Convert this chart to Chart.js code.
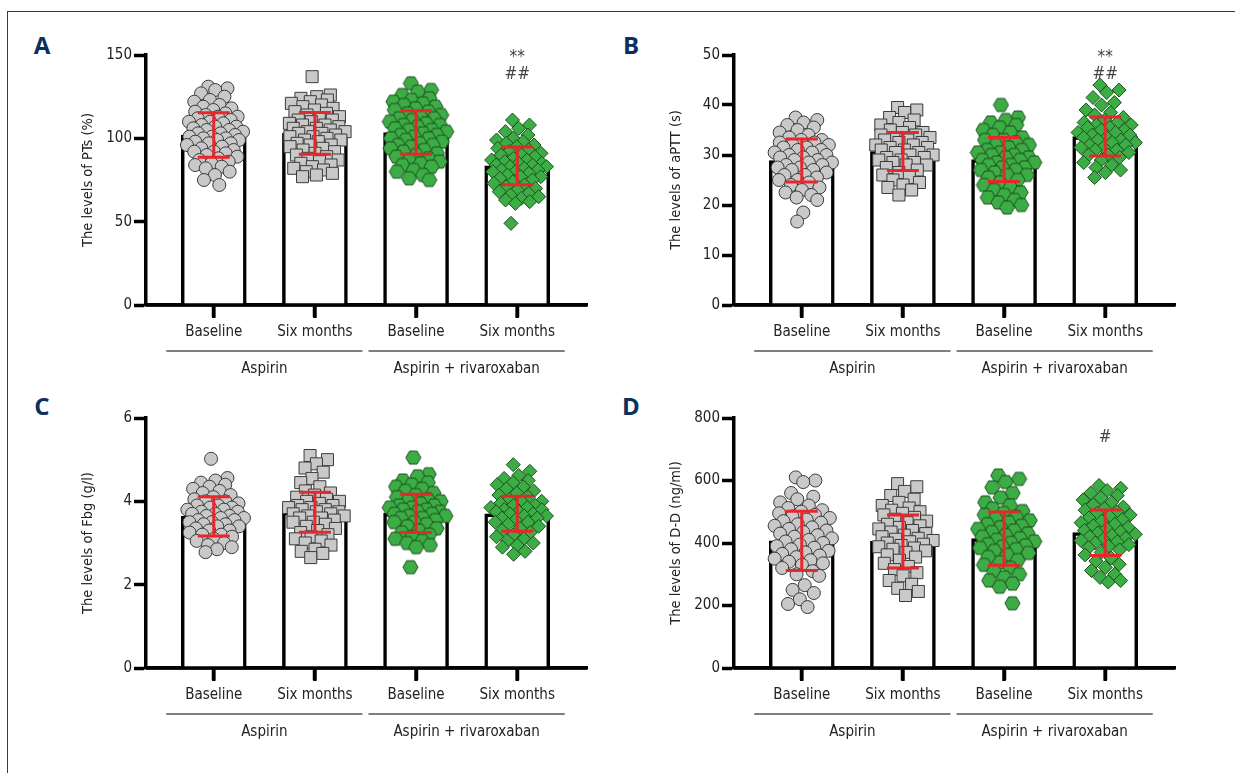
<!DOCTYPE html>
<html lang="en">
<head>
<meta charset="UTF-8">
<title>Coagulation indexes</title>
<script src="https://cdn.jsdelivr.net/npm/chart.js"></script>
<style>
    body { margin: 0; background: #fff; }
    #page { position: relative; width: 1235px; height: 773px; overflow: hidden; background: #fff; }
    .frame-top { position: absolute; left: 7px; top: 11px; right: 0; border-top: 1px solid #3a3a3a; }
    .frame-left { position: absolute; left: 7px; top: 11px; bottom: 0; border-left: 1px solid #3a3a3a; }
    .tag {
        position: absolute;
        font: bold 24px 'Open Sans', 'Liberation Sans', sans-serif;
        color: #0c2f5e;
        transform: translate(-50%, -50%);
    }
    canvas { position: absolute; }
</style>
</head>
<body>
<div id="page">
    <div class="frame-top"></div>
    <div class="frame-left"></div>
    <div class="tag" style="left:42px;top:44px">A</div>
    <div class="tag" style="left:631px;top:44px">B</div>
    <div class="tag" style="left:42px;top:405px">C</div>
    <div class="tag" style="left:631px;top:405px">D</div>
    <canvas id="chartA" width="600" height="380" style="left:0;top:0"></canvas>
    <canvas id="chartB" width="600" height="380" style="left:588px;top:0"></canvas>
    <canvas id="chartC" width="600" height="380" style="left:0;top:363px"></canvas>
    <canvas id="chartD" width="600" height="380" style="left:588px;top:363px"></canvas>
</div>

<script>
    // categories and groups
    const categories = ['Baseline', 'Six months', 'Baseline', 'Six months'];
    const groups = ['Aspirin', 'Aspirin + rivaroxaban'];

    // A - PTs (%)
    const ptsMean = [102, 103, 103.5, 83.5];
    const ptsSD = [13.4, 12.5, 13, 11.3];
    const ptsAspBase = [131, 130, 129, 127, 125, 123, 122, 120, 119, 118, 117, 116, 115, 114, 113, 113, 112, 111, 110, 110, 109, 108, 107, 107, 106, 105, 105, 104, 103, 103, 102, 101, 101, 100, 100, 99, 99, 98, 97, 97, 96, 95, 94, 93, 92, 92, 91, 90, 89, 88, 87, 86, 85, 84, 83, 82, 80, 78, 75, 72];
    const ptsAsp6m = [137, 126, 125, 124, 123, 122, 121, 120, 119, 118, 117, 116, 115, 114, 113, 112, 111, 111, 110, 109, 108, 108, 107, 106, 106, 105, 104, 104, 103, 103, 102, 101, 101, 100, 99, 99, 98, 97, 96, 96, 95, 94, 93, 92, 91, 90, 89, 88, 87, 86, 85, 84, 83, 82, 81, 80, 79, 78, 77];
    const ptsRivBase = [133, 129, 128, 126, 124, 123, 122, 121, 120, 119, 118, 117, 116, 115, 114, 113, 112, 112, 111, 110, 109, 108, 108, 107, 106, 105, 105, 104, 103, 102, 102, 101, 100, 100, 99, 98, 97, 96, 96, 95, 94, 93, 92, 91, 90, 89, 88, 87, 86, 85, 84, 83, 81, 80, 78, 76, 75];
    const ptsRiv6m = [111, 108, 106, 104, 102, 100, 99, 98, 97, 96, 95, 94, 93, 92, 91, 90, 90, 89, 88, 87, 87, 86, 85, 85, 84, 84, 83, 83, 82, 81, 81, 80, 80, 79, 78, 77, 77, 76, 75, 74, 73, 72, 71, 70, 69, 68, 67, 66, 65, 64, 63, 62, 61, 49];
    const ptsMarks = [[], [], [], ['**', '##']];

    // B - aPTT (s)
    const apttMean = [28.9, 30.7, 29.1, 33.7];
    const apttSD = [4.3, 3.8, 4.4, 3.9];
    const apttAspBase = [37.5, 37, 36.5, 36, 35.5, 35, 34.5, 34, 33.5, 33, 33, 32.5, 32.5, 32, 32, 31.5, 31.5, 31, 31, 30.5, 30.5, 30, 30, 29.5, 29.5, 29, 29, 28.5, 28.5, 28, 28, 27.5, 27.5, 27, 27, 26.5, 26, 26, 25.5, 25, 25, 24.5, 24, 23.5, 23, 22.5, 22, 21.5, 21, 18.5, 16.7];
    const apttAsp6m = [39.5, 39, 38.5, 37.5, 37, 36.5, 36, 35.5, 35, 34.5, 34.5, 34, 34, 33.5, 33.5, 33, 33, 32.5, 32.5, 32, 32, 31.5, 31.5, 31, 31, 30.5, 30.5, 30, 30, 29.5, 29.5, 29, 29, 28.5, 28.5, 28, 28, 27.5, 27, 26.5, 26, 25.5, 25, 24.5, 24, 23.5, 23, 22];
    const apttRivBase = [40, 37.5, 37, 36.5, 36, 35.5, 35, 34.5, 34, 33.5, 33, 33, 32.5, 32, 32, 31.5, 31, 31, 30.5, 30.5, 30, 30, 29.5, 29.5, 29, 29, 28.5, 28.5, 28, 28, 27.5, 27.5, 27, 27, 26.5, 26, 26, 25.5, 25, 24.5, 24, 23.5, 23, 22.5, 22, 21.5, 21, 20.5, 20, 19.5];
    const apttRiv6m = [44, 43, 42.5, 41.5, 40.5, 40, 39, 38.5, 38, 37.5, 37, 36.5, 36.5, 36, 36, 35.5, 35.5, 35, 35, 34.5, 34.5, 34, 34, 33.5, 33.5, 33, 33, 32.5, 32.5, 32, 32, 31.5, 31.5, 31, 31, 30.5, 30, 30, 29.5, 29, 28.5, 28, 27.5, 27, 26.5, 25.5];
    const apttMarks = [[], [], [], ['**', '##']];

    // C - Fbg (g/l)
    const fbgMean = [3.64, 3.74, 3.71, 3.70];
    const fbgSD = [0.47, 0.48, 0.46, 0.42];
    const fbgAspBase = [5.02, 4.56, 4.5, 4.45, 4.4, 4.35, 4.3, 4.25, 4.2, 4.15, 4.1, 4.05, 4.0, 4.0, 3.95, 3.9, 3.9, 3.85, 3.85, 3.8, 3.8, 3.75, 3.75, 3.7, 3.7, 3.65, 3.65, 3.6, 3.6, 3.55, 3.55, 3.5, 3.5, 3.45, 3.45, 3.4, 3.4, 3.35, 3.3, 3.3, 3.25, 3.2, 3.2, 3.15, 3.1, 3.05, 3.0, 2.95, 2.9, 2.85, 2.78];
    const fbgAsp6m = [5.1, 5.0, 4.9, 4.8, 4.7, 4.55, 4.45, 4.35, 4.25, 4.2, 4.15, 4.1, 4.05, 4.0, 4.0, 3.95, 3.9, 3.9, 3.85, 3.85, 3.8, 3.8, 3.75, 3.75, 3.7, 3.7, 3.65, 3.65, 3.6, 3.6, 3.55, 3.5, 3.5, 3.45, 3.4, 3.35, 3.3, 3.25, 3.2, 3.15, 3.1, 3.05, 3.0, 2.95, 2.85, 2.8, 2.75, 2.65];
    const fbgRivBase = [5.05, 4.65, 4.6, 4.5, 4.45, 4.4, 4.35, 4.3, 4.25, 4.2, 4.15, 4.1, 4.05, 4.0, 4.0, 3.95, 3.9, 3.9, 3.85, 3.85, 3.8, 3.8, 3.75, 3.75, 3.7, 3.7, 3.65, 3.65, 3.6, 3.6, 3.55, 3.5, 3.5, 3.45, 3.4, 3.35, 3.3, 3.25, 3.2, 3.15, 3.1, 3.05, 3.0, 2.95, 2.9, 2.42];
    const fbgRiv6m = [4.88, 4.72, 4.62, 4.55, 4.5, 4.45, 4.4, 4.35, 4.3, 4.25, 4.2, 4.15, 4.1, 4.05, 4.0, 4.0, 3.95, 3.9, 3.9, 3.85, 3.85, 3.8, 3.8, 3.75, 3.75, 3.7, 3.7, 3.65, 3.65, 3.6, 3.6, 3.55, 3.5, 3.5, 3.45, 3.4, 3.35, 3.3, 3.25, 3.2, 3.15, 3.1, 3.05, 3.0, 2.95, 2.9, 2.8, 2.73];
    const fbgMarks = [[], [], [], []];

    // D - D-D (ng/ml)
    const ddMean = [407, 405, 414, 433];
    const ddSD = [95, 85, 85, 73];
    const ddAspBase = [610, 600, 595, 560, 548, 540, 530, 520, 512, 505, 500, 495, 490, 485, 480, 475, 470, 465, 460, 455, 450, 445, 440, 435, 430, 425, 420, 415, 410, 405, 400, 395, 390, 385, 380, 375, 370, 365, 360, 355, 350, 345, 340, 335, 330, 320, 310, 300, 295, 265, 250, 240, 220, 205, 195];
    const ddAsp6m = [590, 580, 565, 552, 540, 530, 520, 512, 505, 500, 495, 490, 482, 476, 470, 465, 460, 455, 450, 445, 440, 435, 430, 425, 420, 415, 412, 408, 404, 400, 396, 392, 388, 384, 380, 375, 370, 362, 355, 345, 335, 325, 315, 305, 295, 280, 268, 255, 245, 232];
    const ddRivBase = [616, 605, 595, 578, 560, 545, 530, 520, 510, 502, 496, 490, 484, 478, 472, 466, 460, 455, 450, 445, 440, 435, 430, 425, 420, 415, 410, 405, 400, 396, 392, 388, 384, 380, 375, 368, 362, 355, 345, 338, 330, 320, 310, 300, 290, 280, 270, 260, 207];
    const ddRiv6m = [584, 575, 568, 560, 552, 545, 538, 530, 522, 515, 510, 505, 500, 495, 490, 485, 480, 475, 470, 465, 460, 455, 450, 445, 440, 436, 432, 428, 424, 420, 416, 412, 408, 404, 400, 395, 390, 385, 378, 370, 362, 352, 342, 332, 322, 312, 300, 290, 280, 275];
    const ddMarks = [[], [], [], ['', '#']];

    const FONT = "'DejaVu Sans Condensed', 'Liberation Sans Narrow', sans-serif";
    Chart.defaults.font.family = FONT;
    Chart.defaults.color = '#222';

    const GREY = '#c9c9c9', GREY_EDGE = '#3b3b3b';
    const GREEN = '#3cad45', GREEN_EDGE = '#1c4f1f';

    function hexagon(r, fill, stroke) {
        const c = document.createElement('canvas');
        const s = Math.ceil(r * 2 + 2);
        c.width = s; c.height = s;
        const g = c.getContext('2d');
        g.beginPath();
        for (let k = 0; k < 6; k++) {
            const a = Math.PI / 3 * k;
            const px = s / 2 + r * Math.cos(a), py = s / 2 + r * Math.sin(a);
            if (k) g.lineTo(px, py); else g.moveTo(px, py);
        }
        g.closePath();
        g.fillStyle = fill; g.fill();
        g.lineWidth = 1; g.strokeStyle = stroke; g.stroke();
        return c;
    }

    const markers = [
        { style: 'circle', radius: 6.5, fill: GREY, edge: GREY_EDGE },
        { style: 'rect', radius: 8.5, fill: GREY, edge: GREY_EDGE },
        { style: hexagon(7.5, GREEN, GREEN_EDGE), radius: 7.5, fill: GREEN, edge: GREEN_EDGE },
        { style: 'rectRot', radius: 7, fill: GREEN, edge: GREEN_EDGE }
    ];

    // spread the dots sideways, wider where the values are dense
    function spread(values, span) {
        const h = span / 28;
        const counts = values.map(v => values.filter(u => Math.abs(u - v) <= h).length);
        const peak = Math.max(...counts);
        return values.map((v, i) => {
            const w = 0.3 * Math.sqrt(counts[i] / peak);
            const t = ((i * 0.618034 + 0.31) % 1) * 2 - 1;
            return w * t;
        });
    }

    // error bars, x tick marks, group lines, significance marks
    const decorations = {
        id: 'decorations',
        afterDatasetsDraw(chart, args, opts) {
            const { ctx, scales: { x, y } } = chart;
            ctx.save();
            ctx.strokeStyle = '#e8262b';
            ctx.lineWidth = 3;
            opts.mean.forEach((m, i) => {
                const px = x.getPixelForValue(i);
                const top = y.getPixelForValue(m + opts.sd[i]);
                const bot = y.getPixelForValue(m - opts.sd[i]);
                ctx.beginPath();
                ctx.moveTo(px, top); ctx.lineTo(px, bot);
                ctx.moveTo(px - 16, top); ctx.lineTo(px + 16, top);
                ctx.moveTo(px - 16, bot); ctx.lineTo(px + 16, bot);
                ctx.stroke();
            });
            ctx.restore();
        },
        afterDraw(chart, args, opts) {
            const { ctx, scales: { x, y } } = chart;
            const base = y.getPixelForValue(0);
            ctx.save();
            // axis line over the bar feet, and the category tick marks
            ctx.fillStyle = '#000';
            ctx.fillRect(x.left, base - 1.75, x.right - x.left, 3.5);
            categories.forEach((c, i) => {
                ctx.fillRect(x.getPixelForValue(i) - 1.75, base, 3.5, 13);
            });

            ctx.strokeStyle = '#555';
            ctx.lineWidth = 1.5;
            ctx.fillStyle = '#222';
            ctx.font = '15px ' + FONT;
            ctx.textAlign = 'center';
            ctx.textBaseline = 'middle';
            groups.forEach((name, g) => {
                const x1 = x.getPixelForValue(2 * g - 0.47);
                const x2 = x.getPixelForValue(2 * g + 1.47);
                const ly = base + 46;
                ctx.beginPath();
                ctx.moveTo(x1, ly); ctx.lineTo(x2, ly);
                ctx.stroke();
                ctx.fillText(name, (x1 + x2) / 2, ly + 18);
            });
            ctx.fillStyle = '#444';
            ctx.font = '17px ' + FONT;
            opts.marks.forEach((lines, i) => {
                lines.forEach((txt, k) => {
                    ctx.fillText(txt, x.getPixelForValue(i), y.top + 3 + k * 17);
                });
            });
            ctx.restore();
        }
    };

    function makePanel(id, cfg) {
        const datasets = [{
            type: 'bar',
            data: cfg.mean.map((m, i) => ({ x: i, y: m })),
            backgroundColor: '#fff',
            borderColor: '#000',
            borderWidth: 3.5,
            barThickness: 65,
            order: 3
        }];
        cfg.points.forEach((vals, i) => {
            const off = spread(vals, cfg.max);
            const mk = markers[i];
            datasets.push({
                type: 'scatter',
                data: vals.map((v, k) => ({ x: i + off[k], y: v })),
                pointStyle: mk.style,
                pointRadius: mk.radius,
                pointHoverRadius: mk.radius,
                backgroundColor: mk.fill,
                borderColor: mk.edge,
                pointBorderWidth: 1,
                order: 1
            });
        });

        new Chart(document.getElementById(id), {
            type: 'bar',
            data: { datasets },
            plugins: [decorations],
            options: {
                responsive: false,
                animation: false,
                devicePixelRatio: 1,
                layout: { padding: { left: 75, top: 55, right: 13, bottom: 35 } },
                plugins: {
                    legend: { display: false },
                    tooltip: { enabled: false },
                    decorations: { mean: cfg.mean, sd: cfg.sd, marks: cfg.marks }
                },
                scales: {
                    x: {
                        type: 'linear',
                        offset: false,
                        min: -0.67,
                        max: 3.69,
                        afterBuildTicks: axis => { axis.ticks = [0, 1, 2, 3].map(v => ({ value: v })); },
                        afterFit: axis => { axis.height = 40; },
                        border: { display: true, color: '#000', width: 3.5 },
                        grid: { offset: false, drawOnChartArea: false, drawTicks: true, tickLength: 12, tickWidth: 3.5, tickColor: '#000' },
                        ticks: {
                            autoSkip: false,
                            maxRotation: 0,
                            padding: 6,
                            font: { size: 15 },
                            color: '#222',
                            callback: v => categories[v]
                        }
                    },
                    y: {
                        min: 0,
                        max: cfg.max,
                        afterFit: axis => { axis.width = 71; },
                        border: { display: true, color: '#000', width: 3.5 },
                        grid: { drawOnChartArea: false, drawTicks: true, tickLength: 12, tickWidth: 3.5, tickColor: '#000' },
                        ticks: { stepSize: cfg.step, padding: 2, font: { size: 15 }, color: '#222' },
                        title: { display: true, text: cfg.title, font: { size: 14.5 }, color: '#222', padding: { top: 5, bottom: 0 } }
                    }
                }
            }
        });
    }

    makePanel('chartA', {
        max: 150, step: 50, title: 'The levels of PTs (%)',
        mean: ptsMean, sd: ptsSD, marks: ptsMarks,
        points: [ptsAspBase, ptsAsp6m, ptsRivBase, ptsRiv6m]
    });
    makePanel('chartB', {
        max: 50, step: 10, title: 'The levels of aPTT (s)',
        mean: apttMean, sd: apttSD, marks: apttMarks,
        points: [apttAspBase, apttAsp6m, apttRivBase, apttRiv6m]
    });
    makePanel('chartC', {
        max: 6, step: 2, title: 'The levels of Fbg (g/l)',
        mean: fbgMean, sd: fbgSD, marks: fbgMarks,
        points: [fbgAspBase, fbgAsp6m, fbgRivBase, fbgRiv6m]
    });
    makePanel('chartD', {
        max: 800, step: 200, title: 'The levels of D-D (ng/ml)',
        mean: ddMean, sd: ddSD, marks: ddMarks,
        points: [ddAspBase, ddAsp6m, ddRivBase, ddRiv6m]
    });
</script>
</body>
</html>
